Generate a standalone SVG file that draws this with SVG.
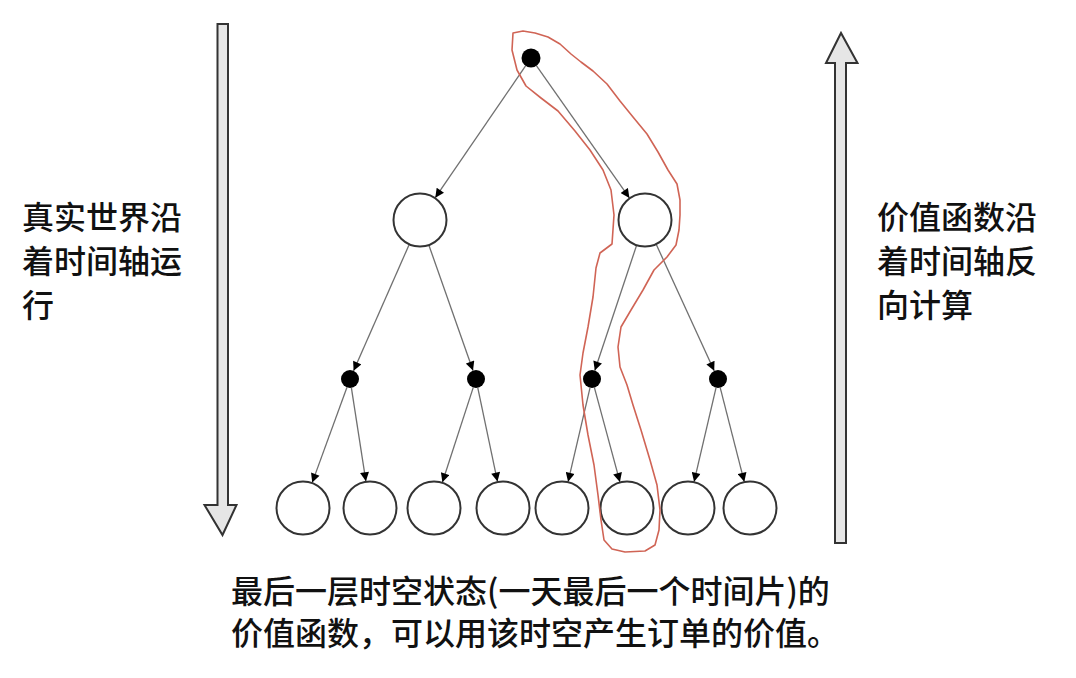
<svg xmlns="http://www.w3.org/2000/svg" width="1076" height="678" viewBox="0 0 1076 678">
<style>
.edge{stroke:#707070;stroke-width:1.3;fill:none;marker-end:url(#ah)}
.state{fill:#fff;stroke:#333;stroke-width:2}
.act{fill:#000}
.big{fill:#e6e6e6;stroke:#333;stroke-width:2;stroke-linejoin:miter}
.txt{font-family:"Noto Sans CJK SC","Noto Sans",sans-serif;font-size:32px;font-weight:500;fill:#111}
.mark{fill:none;stroke:#d06455;stroke-width:1.6;stroke-linejoin:round}
</style>
<defs>
<marker id="ah" viewBox="0 0 10 10" refX="10" refY="5" markerWidth="10" markerHeight="9" markerUnits="userSpaceOnUse" orient="auto">
<path d="M0,0 L10,5 L0,10 Z" fill="#000"/>
</marker>
</defs>
<rect width="1076" height="678" fill="#fff"/>

<g id="time-arrow-down">
<path class="big" d="M217.5,24 L228,24 L228,505 L236.5,505 L222.5,535 L204.5,505 L217.5,505 Z"/>
</g>
<g id="time-arrow-up">
<path class="big" d="M835,543 L846,543 L846,63 L857.5,63 L841,33 L826,63 L835,63 Z"/>
</g>

<g id="connectors">
<line class="edge" x1="525.9" y1="65.4" x2="435.3" y2="197.7"/>
<line class="edge" x1="536.2" y1="65.4" x2="629.4" y2="197.9"/>
<line class="edge" x1="409.1" y1="244.7" x2="353.6" y2="370.8"/>
<line class="edge" x1="429" y1="245.5" x2="473" y2="370.5"/>
<line class="edge" x1="636.5" y1="245.6" x2="594.8" y2="370.5"/>
<line class="edge" x1="656.3" y1="244.5" x2="714.2" y2="370.8"/>
<line class="edge" x1="346.9" y1="387.5" x2="312.2" y2="482.6"/>
<line class="edge" x1="351.4" y1="387.9" x2="365.9" y2="481.3"/>
<line class="edge" x1="473.2" y1="387.6" x2="442.4" y2="482.3"/>
<line class="edge" x1="477.8" y1="387.8" x2="497.5" y2="481.6"/>
<line class="edge" x1="590" y1="387.8" x2="568.1" y2="481.7"/>
<line class="edge" x1="594.4" y1="387.7" x2="619.9" y2="481.9"/>
<line class="edge" x1="716" y1="387.8" x2="694.1" y2="481.7"/>
<line class="edge" x1="720.2" y1="387.7" x2="744.3" y2="481.8"/>
</g>

<g id="root"><circle class="act" cx="531" cy="58" r="9.5"/></g>
<g id="s1-left"><circle class="state" cx="420" cy="220" r="26.5"/></g>
<g id="s1-right"><circle class="state" cx="645" cy="220" r="26.5"/></g>
<g id="a2-1"><circle class="act" cx="350" cy="379" r="9"/></g>
<g id="a2-2"><circle class="act" cx="476" cy="379" r="9"/></g>
<g id="a2-3"><circle class="act" cx="592" cy="379" r="9"/></g>
<g id="a2-4"><circle class="act" cx="718" cy="379" r="9"/></g>
<g id="leaf-1"><circle class="state" cx="303" cy="508" r="26.5"/></g>
<g id="leaf-2"><circle class="state" cx="370" cy="508" r="26.5"/></g>
<g id="leaf-3"><circle class="state" cx="434" cy="508" r="26.5"/></g>
<g id="leaf-4"><circle class="state" cx="503" cy="508" r="26.5"/></g>
<g id="leaf-5"><circle class="state" cx="562" cy="508" r="26.5"/></g>
<g id="leaf-6"><circle class="state" cx="627" cy="508" r="26.5"/></g>
<g id="leaf-7"><circle class="state" cx="688" cy="508" r="26.5"/></g>
<g id="leaf-8"><circle class="state" cx="750" cy="508" r="26.5"/></g>

<g id="label-left">
<text class="txt" x="22" y="229">真实世界沿</text>
<text class="txt" x="22" y="273">着时间轴运</text>
<text class="txt" x="22" y="317">行</text>
</g>
<g id="label-right">
<text class="txt" x="877" y="229">价值函数沿</text>
<text class="txt" x="877" y="273">着时间轴反</text>
<text class="txt" x="877" y="317">向计算</text>
</g>
<g id="label-bottom">
<text class="txt" x="231" y="603">最后一层时空状态(一天最后一个时间片)的</text>
<text class="txt" x="231" y="645">价值函数，可以用该时空产生订单的价值。</text>
</g>

<g id="highlight">
<path class="mark" d="M513,33 L523,31 L535,33 L548,37 L560,44 L571,54 L581,62 L593,71 L607,84 L620,101 L633,117 L647,134 L658,152 L668,170 L677,184 L680,200 L680,215 L679,230 L676,245 L667,257 L654,270 L643,290 L631,310 L621,327 L618,347 L620,367 L627,385 L633,405 L641,430 L650,460 L657,485 L660,510 L659,530 L655,545 L645,551 L625,552 L612,549 L604,540 L601,520 L598,495 L594,465 L588,435 L583,405 L580,375 L583,353 L588,327 L593,297 L596,268 L600,253 L612,244 L614,215 L611,190 L603,170 L590,150 L575,131 L558,111 L541,98 L526,86 L517,70 L512,50 Z"/>
</g>
</svg>
